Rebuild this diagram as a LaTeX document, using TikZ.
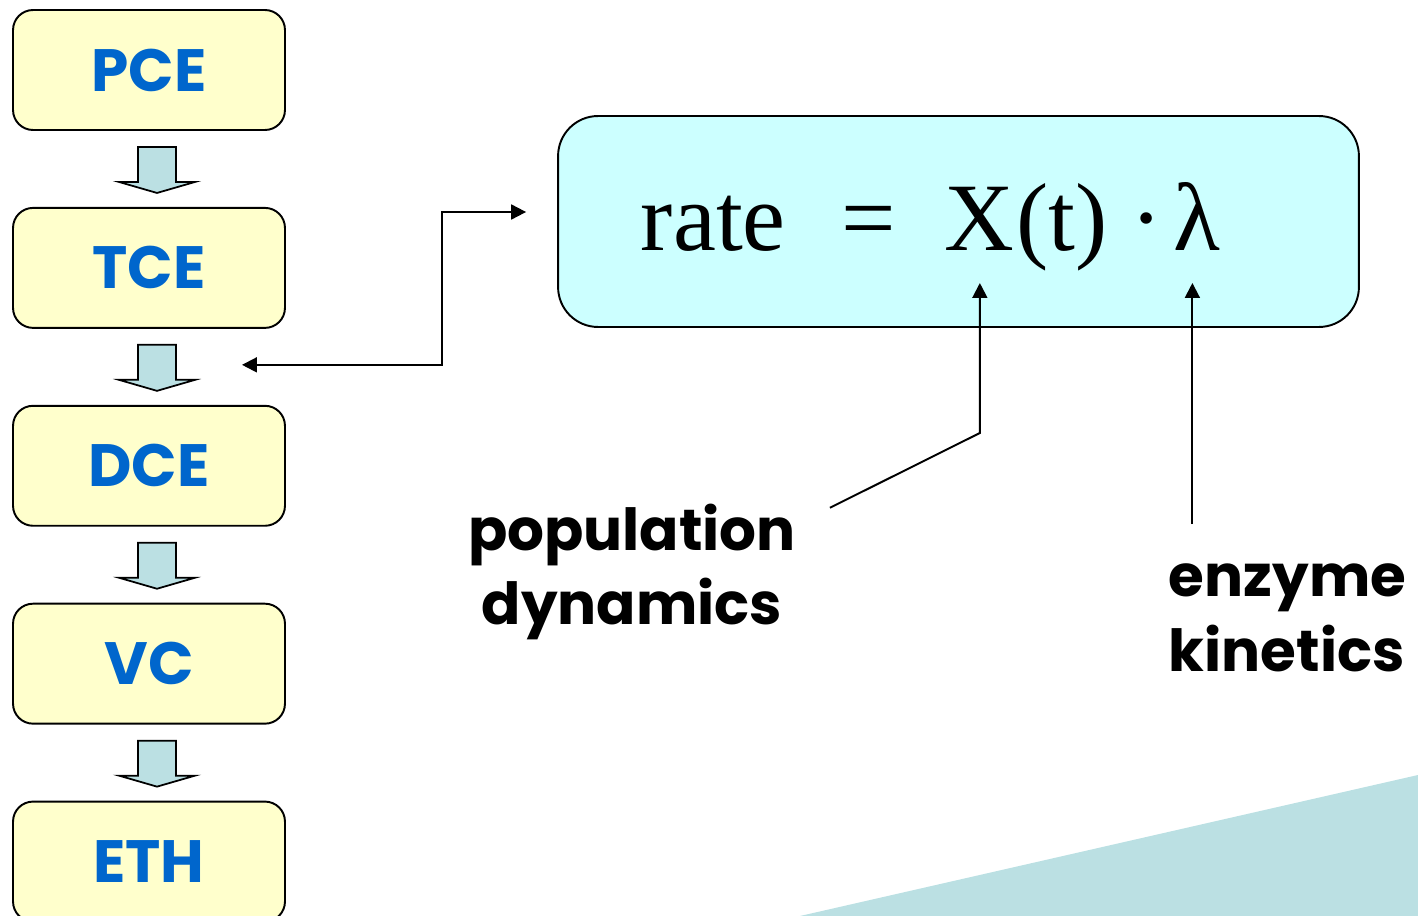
\documentclass[tikz,border=0pt]{standalone}
\usepackage{fontspec}
\setmainfont{Liberation Serif}
\newfontfamily\gothic{Poppins}
\usepackage{tikz}
\usetikzlibrary{positioning, calc, arrows.meta}
\definecolor{boxyellow}{HTML}{FFFFCC}
\definecolor{labelblue}{HTML}{0066CC}
\definecolor{ratecyan}{HTML}{CCFFFF}
\definecolor{paleteal}{HTML}{BBE0E3}
\tikzset{
  species/.style={draw, line width=1.1pt, fill=boxyellow, rounded corners=0.4cm,
    minimum width=5.44cm, minimum height=2.4cm, text=labelblue,
    font=\gothic\bfseries\fontsize{34}{40}\selectfont},
  formulabox/.style={draw, line width=1.1pt, fill=ratecyan, rounded corners=0.8cm,
    minimum width=16.02cm, minimum height=4.22cm},
  formula/.style={inner sep=0pt, anchor=base west, font=\fontsize{55}{64}\selectfont},
  blockarrow/.style={fill=paleteal, draw, line width=1pt, line join=miter},
  caption/.style={inner sep=0pt, font=\gothic\bfseries\fontsize{33}{42.5}\selectfont}
}

\begin{document}
\begin{tikzpicture}[x=0.02cm, y=-0.02cm, line width=1.1pt, >={Triangle[length=8.5pt, width=8.5pt]}]
    \clip (0,0) rectangle (1418,916);
    \useasboundingbox (0,0) rectangle (1418,916);

    % ---------------- BACKGROUND WEDGE ---------------- %
    \fill[paleteal] (800,916) -- (1418,775) -- (1418,916) -- cycle;

    % ---------------- DECHLORINATION CHAIN ---------------- %
    \node[species] (PCE) at (149,70) {PCE};
    \node[species, below=1.52cm of PCE] (TCE) {TCE};
    \node[species, below=1.52cm of TCE] (DCE) {DCE};
    \node[species, below=1.52cm of DCE] (VC) {VC};
    \node[species, below=1.52cm of VC] (ETH) {ETH};

    % Block arrows between species
    \foreach \a in {PCE, TCE, DCE, VC} {
        \coordinate (\a-top) at ($(\a.south)+(8,16)$);
        \filldraw[blockarrow, shift={(\a-top)}]
            (-19,0) -- (19,0) -- (19,35) -- (38,35) -- (0,46) -- (-38,35) -- (-19,35) -- cycle;
    }

    % ---------------- RATE EXPRESSION ---------------- %
    \node[formulabox] (ratebox) at (958.5,221.5) {};
    \node[formula] (rate) at (640,250) {rate};
    \node[formula] (eq) at (841,250) {=};
    \node[formula] (X) at (944,250) {X};
    \node[formula] (targ) at (X.base east) {(t)};
    \node[formula, anchor=base] (dot) at (1147,250) {·};
    \node[formula] (lam) at (1173,250) {λ};

    % Link between chain and rate box
    \coordinate (chainport) at ($(TCE.south)+(93,36)$);
    \coordinate (boxport) at ($(ratebox.west)+(-31,-9.5)$);
    \draw[<->] (chainport) -- ++(200,0) |- (boxport);

    % ---------------- CAPTIONS ---------------- %
    \node[caption, align=center] (popdyn) at (632,572) {population\\dynamics};
    \node[caption, align=left, anchor=west] (enzkin) at (1168,618) {enzyme\\kinetics};

    \coordinate (Xfoot) at (X.base |- 0,283);
    \coordinate (lamfoot) at ($(lam.base)+(-5,33)$);
    \draw[->] ($(popdyn.north east)+(33,5)$) -- ($(Xfoot)+(0,150)$) -- (Xfoot);
    \draw[->] ($(enzkin.north -| lamfoot)+(0,-39)$) -- (lamfoot);
\end{tikzpicture}
\end{document}
